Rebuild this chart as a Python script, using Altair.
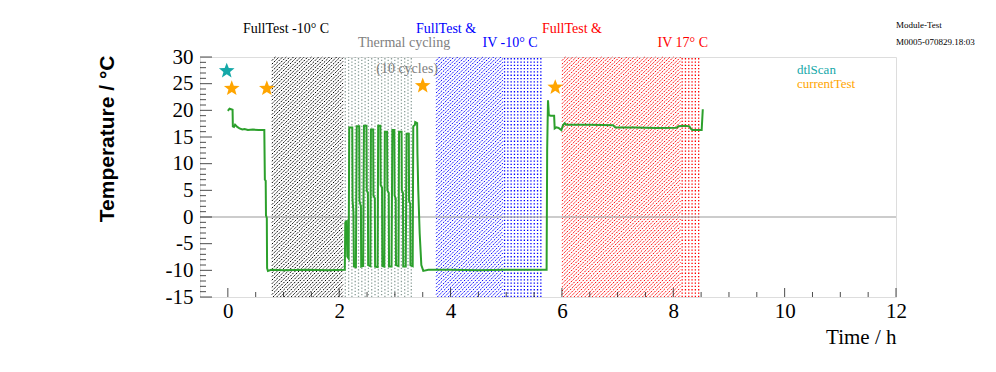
import altair as alt
import numpy as np
import pandas as pd

# ------------------------------------------------------------------ data
time_h = [
    0.00, 0.03, 0.085, 0.09, 0.11, 0.13, 0.17, 0.21, 0.26, 0.30, 0.36, 0.45, 0.55, 0.655,
    0.665, 0.68, 0.685, 0.70, 0.705, 0.72, 0.78, 1.00, 1.40, 1.80, 2.10,
    2.11, 2.135, 2.145, 2.17,
    2.18, 2.235, 2.24, 2.255, 2.265, 2.30,
    2.315, 2.36, 2.365, 2.39, 2.395, 2.43,
    2.445, 2.49, 2.495, 2.515, 2.52, 2.56,
    2.57, 2.61, 2.615, 2.64, 2.645, 2.69,
    2.70, 2.74, 2.745, 2.77, 2.775, 2.81,
    2.82, 2.86, 2.865, 2.89, 2.895, 2.94,
    2.955, 2.99, 2.995, 3.015, 3.02, 3.065,
    3.075, 3.12, 3.125, 3.145, 3.15, 3.195,
    3.21, 3.25, 3.255, 3.275, 3.28, 3.32,
    3.33, 3.36, 3.365, 3.40, 3.405, 3.42, 3.445, 3.475, 3.51,
    3.60, 4.00, 4.50, 5.00, 5.40, 5.725,
    5.735, 5.75, 5.757, 5.765, 5.80, 5.86, 5.87, 5.90, 5.94, 5.99,
    6.02, 6.05, 6.08, 6.50, 6.92, 6.96, 7.30, 7.70, 8.06, 8.09, 8.20,
    8.29, 8.31, 8.34, 8.51, 8.53,
]
temp_c = [
    19.9, 20.3, 20.1, 17.0, 16.9, 17.3, 16.9, 16.6, 16.4, 16.5, 16.3, 16.4, 16.3, 16.3,
    7.0, 6.8, 0.3, -0.2, -9.6, -10.1, -9.9, -10.0, -9.9, -10.0, -9.9,
    -1.0, -0.8, -7.4, -7.8,
    16.8, 16.8, 3.2, 1.0, -9.3, -9.4,
    17.0, 17.0, 3.0, 2.0, -9.3, -9.2,
    17.1, 17.1, 5.0, 4.5, -9.0, -9.2,
    16.4, 16.4, 4.0, 3.5, -9.3, -9.4,
    17.1, 17.1, 6.0, 5.5, -9.2, -9.3,
    16.0, 16.0, 5.0, 4.5, -9.3, -9.3,
    16.3, 16.3, 4.0, 3.5, -9.0, -9.2,
    16.0, 16.0, 5.0, 4.5, -9.3, -9.3,
    15.6, 15.6, 3.0, 2.5, -9.0, -9.2,
    17.0, 17.3, 17.8, 17.6, 12.0, 5.0, -3.0, -9.0, -10.1,
    -9.9, -9.9, -10.0, -9.9, -9.9, -9.9,
    12.6, 21.9, 20.7, 19.1, 19.0, 19.0, 16.6, 16.8, 16.7, 16.3,
    17.2, 17.6, 17.3, 17.3, 17.2, 16.8, 16.8, 16.7, 16.75, 17.0, 17.1,
    17.0, 16.6, 16.3, 16.3, 20.2,
]

dtl_t = [-0.02]
dtl_T = [27.4]
cur_t = [0.07, 0.70, 3.50, 5.88]
cur_T = [24.1, 24.1, 24.6, 24.3]

region_start = [0.79, 2.08, 3.74, 4.94, 6.00, 8.13]
region_end = [2.07, 3.33, 4.94, 5.70, 8.13, 8.50]
region_kind = ["hatch", "dots", "hatch", "dots", "hatch", "dots"]
region_color = ["#000000", "#8a9e98", "#0000ff", "#0000ff", "#ff0000", "#ff0000"]

label_text = ["FullTest -10° C", "Thermal cycling", "(10 cycles)",
              "FullTest &", "IV -10° C", "FullTest &", "IV 17° C"]
label_t = [1.045, 3.165, 3.22, 3.92, 5.07, 6.18, 8.17]
label_T = [34.5, 31.8, 27.0, 34.5, 31.8, 34.5, 31.8]
label_color = ["#000000", "#808080", "#808080", "#0000ff", "#0000ff", "#ff0000", "#ff0000"]

legend_text = ["dtlScan", "currentTest"]
legend_t = [10.22, 10.22]
legend_T = [26.8, 24.2]
legend_color = ["#14a8a8", "#ffa500"]

info_text = ["Module-Test", "M0005-070829.18:03"]
info_t = [12.0, 12.0]
info_T = [36.0, 32.9]

x_major = [0, 2, 4, 6, 8, 10, 12]
x_minor = [v for v in np.arange(0.5, 12.0, 0.5).tolist() if v % 2 != 0]
y_major = [-15, -10, -5, 0, 5, 10, 15, 20, 25, 30]
y_minor = [v for v in range(-14, 30) if v % 5 != 0]

# ------------------------------------------------------------------ layout helpers
W_PLOT, H_PLOT = 696, 240
X_DOM = [-0.5, 12.0]
Y_DOM = [-15.0, 30.0]
SX = W_PLOT / (X_DOM[1] - X_DOM[0])
SY = H_PLOT / (Y_DOM[1] - Y_DOM[0])
SERIF = "Liberation Serif"

xs = alt.Scale(domain=X_DOM, nice=False, zero=False)
ys = alt.Scale(domain=Y_DOM, nice=False, zero=False)

x_axis = alt.Axis(values=x_major, labelExpr="'' + datum.value", title="Time / h",
                  titleFont=SERIF, titleFontSize=21, titleFontWeight="normal",
                  titleColor="black", titleAnchor="end", titleAlign="right",
                  titleX=W_PLOT, titleY=46, titleBaseline="alphabetic",
                  labelFont=SERIF, labelFontSize=21, labelColor="black", labelPadding=3,
                  labelFlush=False, labelOverlap=False, domain=False, ticks=False,
                  grid=False)
y_axis = alt.Axis(values=y_major, labelExpr="'' + datum.value", title="Temperature / °C",
                  titleFont="Liberation Sans", titleFontSize=21, titleFontWeight="bold",
                  titleColor="black", titleAngle=270, titleAlign="right",
                  titleBaseline="middle", titleX=-93, titleY=-2,
                  labelFont=SERIF, labelFontSize=21, labelColor="black", labelPadding=7,
                  labelFlush=False, labelOverlap=False, domain=False, ticks=False,
                  grid=False)


def X(field):
    return alt.X(field, scale=xs, axis=x_axis)


def Y(field):
    return alt.Y(field, scale=ys, axis=y_axis)


def hatch_rows(t0, t1, color, spacing=3.6):
    W = (t1 - t0) * SX
    H = H_PLOT
    rows = []
    for k in np.arange(-H, W, spacing):
        u0 = max(0.0, k)
        u1 = min(W, H + k)
        if u1 - u0 < 0.5:
            continue
        rows.append(dict(t=t0 + u0 / SX, T=Y_DOM[0] + (u0 - k) / SY,
                         t2=t0 + u1 / SX, T2=Y_DOM[0] + (u1 - k) / SY, color=color))
    return rows


def dot_rows(t0, t1, color, spacing=3.3):
    W = (t1 - t0) * SX
    n = int(W // spacing)
    rows = []
    for j in range(n):
        rows.append(dict(t=t0 + (j + 0.5) * spacing / SX, lo=Y_DOM[0], hi=Y_DOM[1],
                         color=color, phase=j % 2 if color == "#8a9e98" else 0))
    return rows


hatch, dots = [], []
for a, b, kind, c in zip(region_start, region_end, region_kind, region_color):
    if kind == "hatch":
        hatch += hatch_rows(a, b, c)
    else:
        dots += dot_rows(a, b, c)
hatch_df = pd.DataFrame(hatch)
dots_df = pd.DataFrame(dots)

line_df = pd.DataFrame({"t": time_h, "T": temp_c, "i": range(len(time_h))})

# ------------------------------------------------------------------ layers
hatch_layer = alt.Chart(hatch_df).mark_rule(strokeWidth=1, strokeDash=[2, 1.2]).encode(
    x=X("t:Q"), y=Y("T:Q"), x2="t2:Q", y2="T2:Q",
    color=alt.Color("color:N", scale=None),
)

dots_a = alt.Chart(dots_df).transform_filter("datum.phase == 0").mark_rule(
    strokeWidth=1.3, strokeDash=[1.3, 2.0]).encode(
    x=X("t:Q"), y=Y("lo:Q"), y2="hi:Q",
    color=alt.Color("color:N", scale=None),
)
dots_b = alt.Chart(dots_df).transform_filter("datum.phase == 1").mark_rule(
    strokeWidth=1.3, strokeDash=[1.3, 2.0], strokeDashOffset=1.65).encode(
    x=X("t:Q"), y=Y("lo:Q"), y2="hi:Q",
    color=alt.Color("color:N", scale=None),
)

zero_layer = alt.Chart(pd.DataFrame({"T": [0.0]})).mark_rule(
    color="#999999", strokeWidth=1).encode(y=Y("T:Q"))

line_layer = alt.Chart(line_df).mark_line(color="#2ca02c", strokeWidth=2).encode(
    x=X("t:Q"), y=Y("T:Q"), order="i:Q",
)

STAR = ("M0,-1L0.25,-0.34L0.951,-0.309L0.40,0.13L0.588,0.809L0,0.42L-0.588,0.809"
        "L-0.40,0.13L-0.951,-0.309L-0.25,-0.34Z")
dtl_layer = alt.Chart(pd.DataFrame({"t": dtl_t, "T": dtl_T})).mark_point(
    shape=STAR, filled=True, size=270, color="#14a8a8", opacity=1, strokeWidth=0).encode(
    x=X("t:Q"), y=Y("T:Q"))
cur_layer = alt.Chart(pd.DataFrame({"t": cur_t, "T": cur_T})).mark_point(
    shape=STAR, filled=True, size=270, color="#ffa500", opacity=1, strokeWidth=0).encode(
    x=X("t:Q"), y=Y("T:Q"))

xt_major = alt.Chart(pd.DataFrame({"t": x_major, "T": [Y_DOM[0]] * len(x_major)})).mark_tick(
    orient="vertical", size=9, thickness=1, yOffset=-4.5, color="black").encode(
    x=X("t:Q"), y=Y("T:Q"))
xt_minor = alt.Chart(pd.DataFrame({"t": x_minor, "T": [Y_DOM[0]] * len(x_minor)})).mark_tick(
    orient="vertical", size=5, thickness=1, yOffset=-2.5, color="black").encode(
    x=X("t:Q"), y=Y("T:Q"))
yt_major = alt.Chart(pd.DataFrame({"T": y_major, "t": [X_DOM[0]] * len(y_major)})).mark_tick(
    orient="horizontal", size=12, thickness=1, xOffset=6, color="black").encode(
    x=X("t:Q"), y=Y("T:Q"))
yt_minor = alt.Chart(pd.DataFrame({"T": y_minor, "t": [X_DOM[0]] * len(y_minor)})).mark_tick(
    orient="horizontal", size=6, thickness=1, xOffset=3, color="black").encode(
    x=X("t:Q"), y=Y("T:Q"))

labels_layer = alt.Chart(pd.DataFrame({"txt": label_text, "t": label_t, "T": label_T,
                                       "c": label_color})).mark_text(
    font=SERIF, fontSize=14, align="center", baseline="alphabetic").encode(
    x=X("t:Q"), y=Y("T:Q"), text="txt:N", color=alt.Color("c:N", scale=None))

legend_layer = alt.Chart(pd.DataFrame({"txt": legend_text, "t": legend_t, "T": legend_T,
                                       "c": legend_color})).mark_text(
    font=SERIF, fontSize=13, align="left", baseline="alphabetic").encode(
    x=X("t:Q"), y=Y("T:Q"), text="txt:N", color=alt.Color("c:N", scale=None))

info_layer = alt.Chart(pd.DataFrame({"txt": info_text, "t": info_t, "T": info_T})).mark_text(
    font=SERIF, fontSize=9, align="left", baseline="middle", color="black").encode(
    x=X("t:Q"), y=Y("T:Q"), text="txt:N")

chart = alt.layer(
    hatch_layer, dots_a, dots_b, zero_layer, line_layer, dtl_layer, cur_layer,
    xt_major, xt_minor, yt_major, yt_minor, labels_layer, legend_layer, info_layer,
).properties(
    width=W_PLOT, height=H_PLOT,
    autosize=alt.AutoSizeParams(type="none"),
    padding={"left": 192, "top": 49, "right": 90, "bottom": 60},
).configure_view(stroke="black", strokeWidth=1).configure(background="white")

chart.save("out.html", embed_options={"renderer": "svg", "actions": False})
